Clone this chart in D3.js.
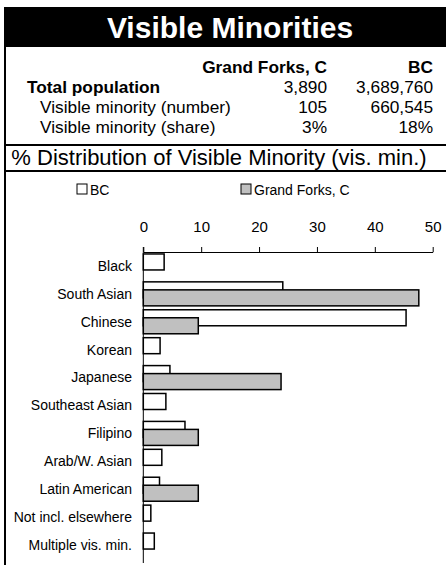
<!DOCTYPE html>
<html>
<head>
<meta charset="utf-8">
<script src="https://cdn.jsdelivr.net/npm/d3@7"></script>
<style>
  body { margin: 0; background: #fff; }
  svg { display: block; font-family: "Liberation Sans", Arial, sans-serif; }
</style>
</head>
<body>
<svg id="chart" width="446" height="565"></svg>
<script>
const categories = ["Black", "South Asian", "Chinese", "Korean", "Japanese", "Southeast Asian",
  "Filipino", "Arab/W. Asian", "Latin American", "Not incl. elsewhere", "Multiple vis. min."];
const bcValues = [3.6, 24.1, 45.4, 2.9, 4.6, 3.9, 7.2, 3.2, 2.8, 1.3, 1.9];
const gfValues = [0, 47.6, 9.5, 0, 23.8, 0, 9.5, 0, 9.5, 0, 0];
const xTicks = [0, 10, 20, 30, 40, 50];

const tableCols = ["Grand Forks, C", "BC"];
const tableRows = [
  { label: "Total population", values: ["3,890", "3,689,760"], bold: true },
  { label: "Visible minority (number)", values: ["105", "660,545"], bold: false },
  { label: "Visible minority (share)", values: ["3%", "18%"], bold: false }
];

const svg = d3.select("#chart");

// frame + title
svg.append("rect").attr("x", 5).attr("y", 7).attr("width", 460).attr("height", 40).attr("fill", "#000");
svg.append("text").attr("x", 230).attr("y", 37.5).attr("text-anchor", "middle")
  .attr("fill", "#fff").attr("font-weight", "bold").attr("font-size", 30)
  .text("Visible Minorities");
svg.append("line").attr("x1", 5).attr("x2", 5).attr("y1", 7).attr("y2", 565)
  .attr("stroke", "#000").attr("stroke-width", 2);
svg.append("line").attr("x1", 5).attr("x2", 446).attr("y1", 145).attr("y2", 145)
  .attr("stroke", "#000").attr("stroke-width", 2);
svg.append("line").attr("x1", 5).attr("x2", 446).attr("y1", 171).attr("y2", 171)
  .attr("stroke", "#000").attr("stroke-width", 2);

// summary table
const colX = [327, 433];
tableCols.forEach((c, i) => {
  svg.append("text").attr("x", colX[i]).attr("y", 73).attr("text-anchor", "end")
    .attr("font-weight", "bold").attr("font-size", 17.3).text(c);
});
tableRows.forEach((r, j) => {
  const y = 93 + j * 20;
  svg.append("text").attr("x", r.bold ? 27 : 40).attr("y", y)
    .attr("font-weight", r.bold ? "bold" : "normal").attr("font-size", 17.3).text(r.label);
  r.values.forEach((v, i) => {
    svg.append("text").attr("x", colX[i]).attr("y", y).attr("text-anchor", "end")
      .attr("font-size", 17.3).text(v);
  });
});

svg.append("text").attr("x", 219).attr("y", 165).attr("text-anchor", "middle")
  .attr("font-size", 22).text("% Distribution of Visible Minority (vis. min.)");

// legend
const legend = [
  { name: "BC", fill: "#fff", x: 77 },
  { name: "Grand Forks, C", fill: "#c0c0c0", x: 241 }
];
legend.forEach(d => {
  svg.append("rect").attr("x", d.x).attr("y", 184).attr("width", 10).attr("height", 10)
    .attr("fill", d.fill).attr("stroke", "#000").attr("stroke-width", 1);
  svg.append("text").attr("x", d.x + 13).attr("y", 194.5).attr("font-size", 14).text(d.name);
});

// bar chart
const x = d3.scaleLinear().domain([0, 50]).range([143.3, 432.7]);
const y = d3.scaleBand().domain(categories).range([252, 559]).paddingInner(0.14).paddingOuter(0.07);
const bh = y.bandwidth() * 2 / 3;

const axis = svg.append("g").attr("transform", "translate(0,252)")
  .call(d3.axisTop(x).tickValues(xTicks).tickSize(5).tickSizeOuter(0).tickFormat(d3.format("d")));
axis.select(".domain").attr("stroke", "#000");
axis.selectAll(".tick line").attr("stroke", "#000");
axis.selectAll(".tick text").attr("font-size", 15).attr("font-family", "Liberation Sans, Arial, sans-serif")
  .attr("fill", "#000").attr("y", -20).attr("dy", 0);

svg.append("g").selectAll("text").data(categories).join("text")
  .attr("x", 132).attr("y", d => y(d) + y.bandwidth() / 2).attr("dy", "0.35em")
  .attr("text-anchor", "end").attr("font-size", 14).text(d => d);

svg.append("g").selectAll("rect").data(categories).join("rect")
  .attr("x", x(0)).attr("y", d => y(d))
  .attr("width", (d, i) => x(bcValues[i]) - x(0)).attr("height", bh)
  .attr("fill", "#fff").attr("stroke", "#000").attr("stroke-width", 1.5);

svg.append("g").selectAll("rect").data(categories.filter((d, i) => gfValues[i] > 0)).join("rect")
  .attr("x", x(0)).attr("y", d => y(d) + y.bandwidth() / 3)
  .attr("width", d => x(gfValues[categories.indexOf(d)]) - x(0)).attr("height", bh)
  .attr("fill", "#c0c0c0").attr("stroke", "#000").attr("stroke-width", 1.5);

svg.append("line").attr("x1", x(0)).attr("x2", x(0)).attr("y1", 247).attr("y2", 563)
  .attr("stroke", "#000").attr("stroke-width", 1);
</script>
</body>
</html>
